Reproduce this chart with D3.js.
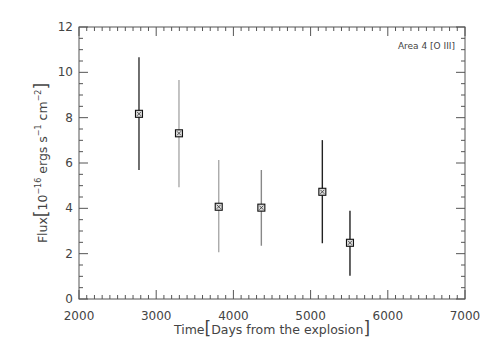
<!DOCTYPE html>
<html>
<head>
<meta charset="utf-8">
<script src="https://cdn.jsdelivr.net/npm/d3@7"></script>
<style>
  body { margin: 0; background: #fff; }
  text { font-family: "DejaVu Sans", sans-serif; fill: #444; }
</style>
</head>
<body>
<div id="FluxPlot"></div>
<script>
// data
const days = [2777, 3295, 3810, 4362, 5152, 5510];
const flux = [8.17, 7.31, 4.07, 4.03, 4.73, 2.48];
const fluxHi = [10.66, 9.66, 6.13, 5.69, 7.01, 3.89];
const fluxLo = [5.69, 4.93, 2.06, 2.35, 2.46, 1.03];
const barShade = ["#333", "#aaa", "#aaa", "#888", "#222", "#222"];
const xTicks = [2000, 3000, 4000, 5000, 6000, 7000];
const yTicks = [0, 2, 4, 6, 8, 10, 12];

const margin = { top: 27, right: 26, bottom: 52, left: 79 };
const W = 491, H = 351;
const width = W - margin.left - margin.right;
const height = H - margin.top - margin.bottom;

const svg = d3.select("#FluxPlot").append("svg")
  .attr("width", W).attr("height", H);
const g = svg.append("g")
  .attr("transform", "translate(" + margin.left + "," + margin.top + ")");

const x = d3.scaleLinear().domain([2000, 7000]).range([0, width]);
const y = d3.scaleLinear().domain([0, 12]).range([height, 0]);

const axisCol = "#555";

// minor + major ticks on all four sides, pointing inward
const xMinor = d3.range(2000, 7001, 100);
const yMinor = d3.range(0, 12.01, 0.5);
function isMajorX(v) { return v % 1000 === 0; }
function isMajorY(v) { return v % 2 === 0; }

g.selectAll(".xb").data(xMinor).join("line")
  .attr("x1", d => x(d)).attr("x2", d => x(d))
  .attr("y1", height).attr("y2", d => height - (isMajorX(d) ? 9 : 4))
  .attr("stroke", axisCol);
g.selectAll(".xt").data(xMinor).join("line")
  .attr("x1", d => x(d)).attr("x2", d => x(d))
  .attr("y1", 0).attr("y2", d => (isMajorX(d) ? 9 : 4))
  .attr("stroke", axisCol);
g.selectAll(".yl").data(yMinor).join("line")
  .attr("x1", 0).attr("x2", d => (isMajorY(d) ? 9 : 4))
  .attr("y1", d => y(d)).attr("y2", d => y(d))
  .attr("stroke", axisCol);
g.selectAll(".yr").data(yMinor).join("line")
  .attr("x1", width).attr("x2", d => width - (isMajorY(d) ? 9 : 4))
  .attr("y1", d => y(d)).attr("y2", d => y(d))
  .attr("stroke", axisCol);

g.append("rect")
  .attr("width", width).attr("height", height)
  .attr("fill", "none").attr("stroke", axisCol);

// tick labels
g.selectAll(".xl").data(xTicks).join("text")
  .attr("x", d => x(d)).attr("y", height + 21)
  .attr("text-anchor", "middle")
  .style("font-size", "12px")
  .text(d => d);
g.selectAll(".ylab").data(yTicks).join("text")
  .attr("x", -6).attr("y", d => y(d) + 4)
  .attr("text-anchor", "end")
  .style("font-size", "12px")
  .text(d => d);

// error bars
g.selectAll(".err").data(days).join("line")
  .attr("x1", d => x(d)).attr("x2", d => x(d))
  .attr("y1", (d, i) => y(fluxHi[i])).attr("y2", (d, i) => y(fluxLo[i]))
  .attr("stroke", (d, i) => barShade[i])
  .attr("stroke-width", 1.4);

// square markers with a cross
const s = 3.5;
const pts = g.selectAll(".pt").data(days).join("g")
  .attr("transform", (d, i) => "translate(" + x(d) + "," + y(flux[i]) + ")");
pts.append("rect")
  .attr("x", -s).attr("y", -s).attr("width", 2 * s).attr("height", 2 * s)
  .attr("fill", "#ddd").attr("stroke", "#111").attr("stroke-width", 1.1);
pts.append("path")
  .attr("d", "M-2,-2L2,2M-2,2L2,-2")
  .attr("stroke", "#333").attr("stroke-width", 0.8);

// annotation
g.append("text")
  .attr("x", width - 10).attr("y", 22)
  .attr("text-anchor", "end")
  .style("font-size", "9px")
  .text("Area 4 [O III]");

// x axis title
const xt = svg.append("text")
  .attr("x", margin.left + width / 2).attr("y", 334)
  .attr("text-anchor", "middle")
  .style("font-size", "12.5px");
xt.append("tspan").text("Time");
xt.append("tspan").style("font-size", "17px").text("[");
xt.append("tspan").text("Days from the explosion");
xt.append("tspan").style("font-size", "17px").text("]");

// y axis title
const yt = svg.append("text")
  .attr("transform", "translate(47," + (margin.top + 136) + ") rotate(-90)")
  .attr("text-anchor", "middle")
  .style("font-size", "12.5px");
yt.append("tspan").text("Flux");
yt.append("tspan").style("font-size", "17px").text("[");
yt.append("tspan").text("10");
yt.append("tspan").attr("dy", -6).style("font-size", "8px").text("\u221216");
yt.append("tspan").attr("dy", 6).text(" ergs s");
yt.append("tspan").attr("dy", -6).style("font-size", "8px").text("\u22121");
yt.append("tspan").attr("dy", 6).text("  cm");
yt.append("tspan").attr("dy", -6).style("font-size", "8px").text("\u22122");
yt.append("tspan").attr("dy", 6).style("font-size", "17px").text("]");
</script>
</body>
</html>
